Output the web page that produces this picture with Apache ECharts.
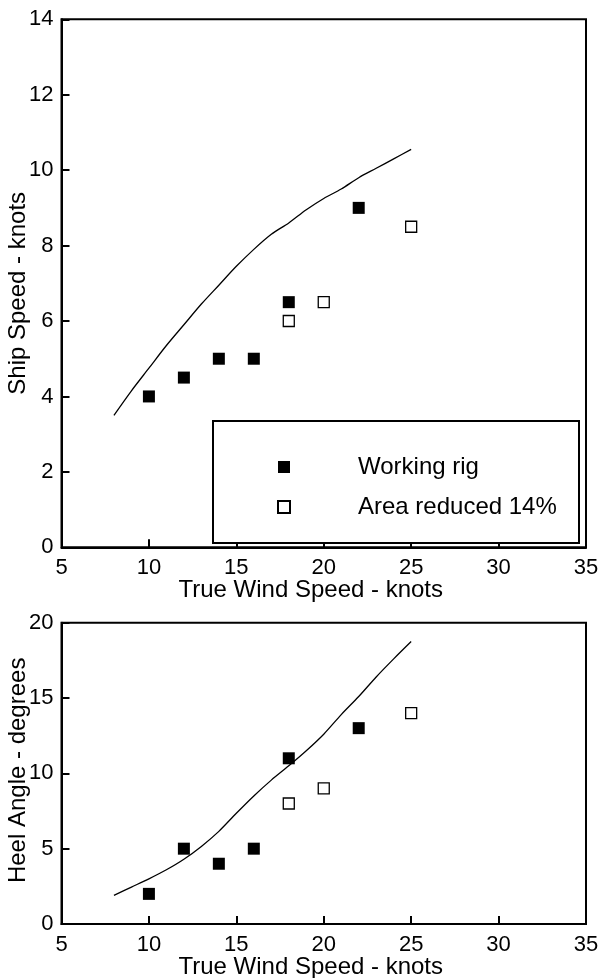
<!DOCTYPE html>
<html>
<head>
<meta charset="utf-8">
<script src="https://cdn.jsdelivr.net/npm/echarts@6/dist/echarts.min.js"></script>
<style>
html,body{margin:0;padding:0;background:#fff;}
#chart{width:600px;height:978px;}
</style>
</head>
<body>
<div id="chart"></div>
<script>
// ---- Top chart: Ship speed ----
var speedWorking = [[10, 4], [12, 4.5], [14, 5], [16, 5], [18, 6.5], [22, 9]];
var speedReduced = [[18, 6], [20, 6.5], [25, 8.5]];
var speedCurve = [[8, 3.5], [9, 4.15], [10, 4.75], [11, 5.35], [12, 5.9], [13, 6.45], [14, 6.95], [15, 7.45], [16, 7.9], [17, 8.3], [18, 8.6], [19, 8.95], [20, 9.25], [21, 9.5], [22, 9.8], [23, 10.05], [24, 10.3], [25, 10.55]];

// ---- Bottom chart: Heel angle ----
var heelWorking = [[10, 2], [12, 5], [14, 4], [16, 5], [18, 11], [22, 13]];
var heelReduced = [[18, 8], [20, 9], [25, 14]];
var heelCurve = [[8, 1.9], [9, 2.45], [10, 3.0], [11, 3.6], [12, 4.3], [13, 5.15], [14, 6.15], [15, 7.35], [16, 8.5], [17, 9.55], [18, 10.5], [19, 11.5], [20, 12.6], [21, 13.9], [22, 15.1], [23, 16.4], [24, 17.6], [25, 18.75]];

var seriesNames = ['Working rig', 'Area reduced 14%'];
var xAxisTitle = 'True Wind Speed - knots';
var topYTitle = 'Ship Speed - knots';
var bottomYTitle = 'Heel Angle - degrees';

var FONT = '"Liberation Sans", Arial, sans-serif';

function xAxisCfg(gridIndex) {
  return {
    gridIndex: gridIndex, type: 'value', min: 5, max: 35, interval: 5,
    name: xAxisTitle, nameLocation: 'middle', nameGap: 31, nameMoveOverlap: false,
    nameTextStyle: {fontFamily: FONT, fontSize: 24, color: '#000', padding: [0, 26, 0, 0]},
    axisLine: {show: true, lineStyle: {color: '#000', width: 2}},
    axisTick: {show: true, inside: true, length: 8, lineStyle: {color: '#000', width: 2}},
    axisLabel: {fontFamily: FONT, fontSize: 22, color: '#000', margin: 10},
    splitLine: {show: false}
  };
}
function yAxisCfg(gridIndex, max, interval, name, pad) {
  return {
    gridIndex: gridIndex, type: 'value', min: 0, max: max, interval: interval,
    name: name, nameLocation: 'middle', nameGap: 31, nameMoveOverlap: false,
    nameTextStyle: {fontFamily: FONT, fontSize: 24, color: '#000', padding: pad},
    axisLine: {show: true, lineStyle: {color: '#000', width: 2}},
    axisTick: {show: true, inside: true, length: 8, lineStyle: {color: '#000', width: 2}},
    axisLabel: {fontFamily: FONT, fontSize: 22, color: '#000', margin: 8},
    splitLine: {show: false}
  };
}
var filledStyle = {color: '#000', borderColor: '#000', borderWidth: 0, opacity: 1};
var openStyle = {color: '#fff', borderColor: '#000', borderWidth: 1.3, opacity: 1};

var chart = echarts.init(document.getElementById('chart'));
chart.setOption({
  animation: false,
  backgroundColor: '#fff',
  grid: [
    {left: 61.5, right: 14, top: 19.3, height: 528, show: true, borderColor: '#000', borderWidth: 2,
     backgroundColor: 'transparent', containLabel: false, outerBoundsMode: 'none'},
    {left: 61.5, right: 14, top: 622.7, height: 301.3, show: true, borderColor: '#000', borderWidth: 2,
     backgroundColor: 'transparent', containLabel: false, outerBoundsMode: 'none'}
  ],
  xAxis: [xAxisCfg(0), xAxisCfg(1)],
  yAxis: [
    yAxisCfg(0, 14, 2, topYTitle, [0, 20, 0, 0]),
    yAxisCfg(1, 20, 5, bottomYTitle, [0, 0, 0, 6])
  ],
  graphic: [{
    type: 'rect', left: 212, top: 420, z: 1,
    shape: {width: 366, height: 122},
    style: {fill: '#fff', stroke: '#000', lineWidth: 2}
  }],
  legend: {
    orient: 'vertical', left: 277, top: 455, padding: 0, itemGap: 16,
    itemWidth: 12, itemHeight: 12, icon: 'rect', z: 10,
    data: seriesNames,
    textStyle: {fontFamily: FONT, fontSize: 24, color: '#000', padding: [0, 0, 0, 63]}
  },
  series: [
    {type: 'line', xAxisIndex: 0, yAxisIndex: 0, data: speedCurve, smooth: 0.3, showSymbol: false,
     lineStyle: {color: '#000', width: 1.3}, z: 2},
    {type: 'scatter', name: seriesNames[0], xAxisIndex: 0, yAxisIndex: 0, data: speedWorking,
     symbol: 'rect', symbolSize: 12, itemStyle: filledStyle, z: 3},
    {type: 'scatter', name: seriesNames[1], xAxisIndex: 0, yAxisIndex: 0, data: speedReduced,
     symbol: 'rect', symbolSize: 11, itemStyle: openStyle, z: 3},
    {type: 'line', xAxisIndex: 1, yAxisIndex: 1, data: heelCurve, smooth: 0.3, showSymbol: false,
     lineStyle: {color: '#000', width: 1.3}, z: 2},
    {type: 'scatter', name: seriesNames[0], xAxisIndex: 1, yAxisIndex: 1, data: heelWorking,
     symbol: 'rect', symbolSize: 12, itemStyle: filledStyle, z: 3},
    {type: 'scatter', name: seriesNames[1], xAxisIndex: 1, yAxisIndex: 1, data: heelReduced,
     symbol: 'rect', symbolSize: 11, itemStyle: openStyle, z: 3}
  ]
});
</script>
</body>
</html>
